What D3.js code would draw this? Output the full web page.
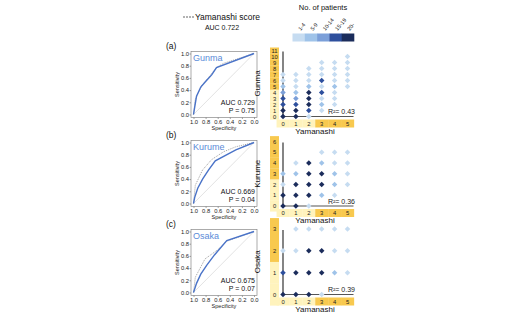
<!DOCTYPE html>
<html><head><meta charset="utf-8">
<script src="https://cdn.jsdelivr.net/npm/d3@7"></script>
<style>body{margin:0;background:#fff}svg{display:block;font-family:"Liberation Sans",Arial,sans-serif}</style>
</head><body><svg id="c" width="530" height="323"></svg>
<script>
// ---------- data ----------
const sites = ["Gunma", "Kurume", "Osaka"];
const panelTags = ["(a)", "(b)", "(c)"];
const overallAUC = "AUC 0.722";
const siteAUC = ["AUC 0.729", "AUC 0.669", "AUC 0.675"];
const siteP = ["P = 0.75", "P = 0.04", "P = 0.07"];
const r2Labels = ["R²= 0.43", "R²= 0.36", "R²= 0.39"];
const rocTicks = [1.0, 0.8, 0.6, 0.4, 0.2, 0.0];
const sensTicks = [0.0, 0.2, 0.4, 0.6, 0.8, 1.0];
// ROC points: [specificity, sensitivity]
const gunmaROC = [[1,0],[0.98,0.12],[0.95,0.3],[0.88,0.45],[0.8,0.54],[0.7,0.65],[0.62,0.77],[0,1]];
const gunmaYamaROC = [[1,0],[0.97,0.25],[0.86,0.48],[0.78,0.57],[0.62,0.77],[0.5,0.84],[0,1]];
const kurumeROC = [[1,0],[0.98,0.1],[0.93,0.25],[0.85,0.4],[0.75,0.55],[0.64,0.7],[0.3,0.88],[0,1]];
const kurumeYamaROC = [[1,0],[0.97,0.3],[0.85,0.55],[0.7,0.72],[0.5,0.85],[0.3,0.93],[0,1]];
const osakaROC = [[1,0],[0.95,0.15],[0.88,0.3],[0.78,0.45],[0.65,0.62],[0.45,0.85],[0,1]];
const osakaYamaROC = [[1,0],[0.97,0.25],[0.81,0.55],[0.6,0.7],[0.45,0.84],[0,1]];
// count bins
const countBins = ["1-4", "5-9", "10-14", "15-19", "20-"];
const binColors = ["#c6dcf1", "#9fc3e9", "#7b9fd9", "#2d4f9d", "#1b2c5b"];
// cells: [yamanashi score, site score, bin index 0-4]
const gunmaCells = [
  [0,0,4],[0,1,4],[0,2,3],[0,3,3],[0,4,2],[0,5,1],[0,6,0],[0,7,0],
  [1,0,4],[1,1,4],[1,2,3],[1,3,2],[1,4,1],[1,5,0],[1,6,0],[1,7,0],
  [2,0,0],[2,1,3],[2,2,4],[2,3,4],[2,4,4],[2,5,1],[2,6,0],[2,7,0],[2,8,0],
  [3,1,0],[3,2,1],[3,3,0],[3,4,3],[3,5,0],[3,6,3],[3,7,0],[3,8,0],[3,9,0],
  [4,2,0],[4,3,0],[4,4,0],[4,5,1],[4,6,0],[4,7,0],[4,8,0],[4,9,0],
  [5,5,0],[5,6,0],[5,7,0],[5,8,0],[5,9,0],[5,10,0]
];
const kurumeCells = [
  [0,0,4],[0,1,4],[0,2,0],[0,3,1],
  [1,0,4],[1,1,4],[1,2,4],[1,3,1],[1,4,0],
  [2,0,0],[2,1,4],[2,2,4],[2,3,4],[2,4,4],
  [3,1,1],[3,2,4],[3,3,4],[3,4,1],[3,5,0],
  [4,1,0],[4,2,1],[4,3,1],[4,4,0],[4,5,0],
  [5,2,0],[5,3,0],[5,4,0],[5,5,0]
];
const osakaCells = [
  [0,0,4],[0,1,3],[0,2,0],
  [1,0,4],[1,1,4],[1,2,0],[1,3,0],
  [2,0,4],[2,1,4],[2,2,4],[2,3,0],
  [3,0,0],[3,1,4],[3,2,4],[3,3,0],
  [4,1,1],[4,2,0],[4,3,0],
  [5,1,0],[5,2,0],[5,3,0]
];
const yamaTicks = [0,1,2,3,4,5];
const siteMax = [11, 6, 3];
const yamaCut = 3;
const siteCut = [5, 3, 2];

// ---------- drawing ----------
const svg = d3.select("#c");
const blue = "#4a73c8", nameBlue = "#5b8bd8";
const yellowHi = "#f8c94f", yellowLo = "#fff3bd";
const rocs = [[gunmaROC, gunmaYamaROC],[kurumeROC, kurumeYamaROC],[osakaROC, osakaYamaROC]];
const cells = [gunmaCells, kurumeCells, osakaCells];

// top-left legend
svg.append("line").attr("x1",183).attr("x2",194).attr("y1",17).attr("y2",17)
  .attr("stroke","#555").attr("stroke-width",0.9).attr("stroke-dasharray","2,1");
svg.append("text").attr("x",195).attr("y",20).attr("font-size",8.5).attr("fill","#111").text("Yamanashi score");
svg.append("text").attr("x",222).attr("y",29.5).attr("font-size",7).attr("text-anchor","middle").attr("fill","#111").text(overallAUC);

// colour legend
const legX = d3.scaleBand().domain(countBins).range([292.5, 354]);
svg.append("text").attr("x",323).attr("y",10).attr("font-size",7.5).attr("text-anchor","middle").attr("fill","#111").text("No. of patients");
svg.selectAll("rect.leg").data(countBins).join("rect").attr("class","leg")
  .attr("x",d=>legX(d)).attr("y",33.5).attr("width",legX.bandwidth()+0.3).attr("height",8)
  .attr("fill",(d,i)=>binColors[i]);
svg.selectAll("text.leg").data(countBins).join("text").attr("class","leg")
  .attr("transform",d=>`translate(${legX(d)+legX.bandwidth()/2+2},31) rotate(-50)`)
  .attr("font-size",5.5).attr("fill","#111").text(d=>d);

const rocTop = [51.5, 140.5, 229.5];
const boxL = 191, boxW = 66, boxH = 66;
const gridTop = [50.5, 141.5, 229];
const gridBot = [116.5, 206, 294.5];
const gx = d3.scaleLinear().domain([0,5]).range([283, 347.5]);

sites.forEach((site, i) => {
  const t = rocTop[i];
  svg.append("text").attr("x",166).attr("y",t-3).attr("font-size",8.5).attr("fill","#111").text(panelTags[i]);
  const sx = d3.scaleLinear().domain([1,0]).range([boxL+2.5, boxL+boxW-3]);
  const sy = d3.scaleLinear().domain([0,1]).range([t+boxH-3, t+2]);
  const g = svg.append("g");
  g.append("rect").attr("x",boxL).attr("y",t).attr("width",boxW).attr("height",boxH)
    .attr("fill","none").attr("stroke","#888").attr("stroke-width",0.7);
  const ax = g.append("g").attr("transform",`translate(0,${t+boxH})`)
    .call(d3.axisBottom(sx).tickValues(rocTicks).tickFormat(d3.format(".1f")).tickSize(1.5).tickPadding(0.5));
  const ay = g.append("g").attr("transform",`translate(${boxL},0)`)
    .call(d3.axisLeft(sy).tickValues(sensTicks).tickFormat(d3.format(".1f")).tickSize(1.5).tickPadding(0.5));
  [ax, ay].forEach(a => {
    a.select(".domain").remove();
    a.selectAll("line").attr("stroke","#666").attr("stroke-width",0.6);
    a.selectAll("text").attr("font-size",5.8).attr("fill","#222").attr("font-family","Liberation Sans, Arial, sans-serif");
  });
  ax.selectAll("text").attr("dy","0.75em");
  g.append("text").attr("x",boxL+boxW/2).attr("y",t+boxH+12).attr("text-anchor","middle").attr("font-size",5.5).attr("fill","#222").text("Specificity");
  g.append("text").attr("transform",`translate(${boxL-12},${t+boxH/2}) rotate(-90)`).attr("text-anchor","middle").attr("font-size",5.5).attr("fill","#222").text("Sensitivity");
  g.append("line").attr("x1",sx(1)).attr("y1",sy(0)).attr("x2",sx(0)).attr("y2",sy(1)).attr("stroke","#d6d6d6").attr("stroke-width",0.7);
  const line = d3.line().x(d=>sx(d[0])).y(d=>sy(d[1]));
  g.append("path").attr("d",line(rocs[i][1])).attr("fill","none").attr("stroke","#8a8a8a").attr("stroke-width",0.8).attr("stroke-dasharray","1,1");
  g.append("path").attr("d",line(rocs[i][0])).attr("fill","none").attr("stroke",blue).attr("stroke-width",1.4);
  g.append("text").attr("x",boxL+2).attr("y",t+9.5).attr("font-size",9).attr("fill",nameBlue).text(site);
  g.append("text").attr("x",boxL+boxW-2).attr("y",t+53).attr("text-anchor","end").attr("font-size",7).attr("fill","#111").text(siteAUC[i]);
  g.append("text").attr("x",boxL+boxW-2).attr("y",t+61).attr("text-anchor","end").attr("font-size",7).attr("fill","#111").text(siteP[i]);

  // ---- grid panel ----
  const gy = d3.scaleLinear().domain([0, siteMax[i]]).range([gridBot[i], gridTop[i]]);
  const step = gy(0)-gy(1);
  const siteTicks = d3.range(0, siteMax[i]+1);
  const h = svg.append("g");
  h.selectAll("rect.yb").data(siteTicks).join("rect").attr("class","yb")
    .attr("x",270).attr("width",9).attr("y",d=>gy(d)-step/2).attr("height",step+0.2)
    .attr("fill",d=>d>=siteCut[i]?yellowHi:yellowLo);
  const xb = gridBot[i]+3;
  h.selectAll("rect.xb").data(yamaTicks).join("rect").attr("class","xb")
    .attr("x",d=>gx(d)-6.45).attr("width",13.1).attr("y",xb).attr("height",8)
    .attr("fill",d=>d>=yamaCut?yellowHi:yellowLo);
  h.selectAll("text.yt").data(siteTicks).join("text").attr("class","yt")
    .attr("x",274.5).attr("y",d=>gy(d)+2).attr("text-anchor","middle").attr("font-size",5.8).attr("fill","#222").text(d=>d);
  h.selectAll("text.xt").data(yamaTicks).join("text").attr("class","xt")
    .attr("x",d=>gx(d)).attr("y",xb+6).attr("text-anchor","middle").attr("font-size",5.8).attr("fill","#222").text(d=>d);
  h.append("line").attr("x1",gx(0)).attr("x2",gx(0)).attr("y1",gy(siteMax[i])+1).attr("y2",gy(0))
    .attr("stroke","#333").attr("stroke-width",1.2);
  h.append("line").attr("x1",gx(0)).attr("x2",gx(5)+6).attr("y1",gy(0)).attr("y2",gy(0))
    .attr("stroke","#555").attr("stroke-width",1.2);
  const sym = d3.symbol().type(d3.symbolSquare).size(15);
  h.selectAll("path.dot").data(cells[i]).join("path").attr("class","dot")
    .attr("d",sym).attr("transform",d=>`translate(${gx(d[0])},${gy(d[1])}) rotate(45)`)
    .attr("fill",d=>binColors[d[2]]);
  h.append("text").attr("x",355).attr("y",gy(0)-2.5).attr("text-anchor","end").attr("font-size",7).attr("fill","#222").text(r2Labels[i]);
  h.append("text").attr("transform",`translate(260,${(gridTop[i]+gridBot[i])/2}) rotate(-90)`)
    .attr("text-anchor","middle").attr("font-size",8).attr("fill","#111").text(site);
  h.append("text").attr("x",315).attr("y",gridBot[i]+17).attr("text-anchor","middle").attr("font-size",8).attr("fill","#111").text("Yamanashi");
});
</script></body></html>
